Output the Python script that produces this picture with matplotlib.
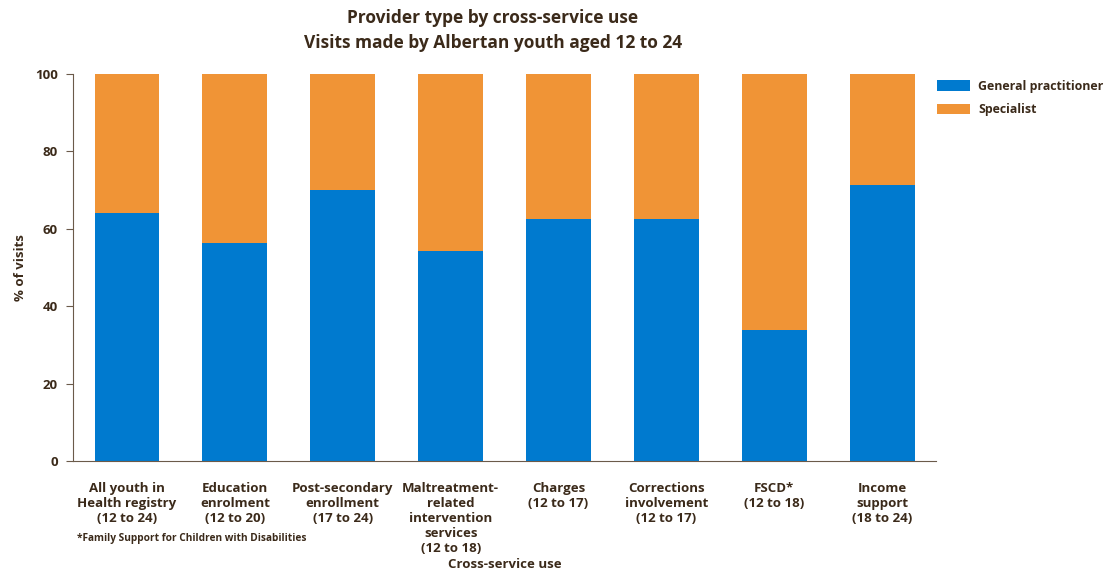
import matplotlib.pyplot as plt
import numpy as np

categories = [
    "All youth in\nHealth registry\n(12 to 24)",
    "Education\nenrolment\n(12 to 20)",
    "Post-secondary\nenrollment\n(17 to 24)",
    "Maltreatment-\nrelated\nintervention\nservices\n(12 to 18)",
    "Charges\n(12 to 17)",
    "Corrections\ninvolvement\n(12 to 17)",
    "FSCD*\n(12 to 18)",
    "Income\nsupport\n(18 to 24)",
]
general_practitioner = [64.1, 56.3, 70.0, 54.3, 62.5, 62.5, 33.9, 71.3]
specialist = [100 - v for v in general_practitioner]

TEXT = "#3b2a1a"
BLUE = "#007ACF"
ORANGE = "#F09436"

plt.rcParams['font.family'] = ['Open Sans', 'DejaVu Sans']
plt.rcParams['font.weight'] = 'bold'

fig = plt.figure(figsize=(11.13, 5.74), dpi=100)
ax = fig.add_axes([0.0656, 0.197, 0.7755, 0.674])

x = np.arange(len(categories))
ax.bar(x, general_practitioner, width=0.6, color=BLUE, label="General practitioner")
ax.bar(x, specialist, width=0.6, bottom=general_practitioner, color=ORANGE, label="Specialist")

ax.set_xlim(-0.5, len(categories) - 0.5)
ax.set_ylim(0, 100)
ax.set_yticks([0, 20, 40, 60, 80, 100])
ax.set_xticks(x)
ax.set_xticklabels(categories, fontsize=9.5, color=TEXT, fontweight='bold', linespacing=1.2)
ax.tick_params(axis='x', length=0, pad=15)
ax.tick_params(axis='y', colors="#6b5a4a", labelcolor=TEXT, labelsize=9.5, length=5, pad=6)
for lbl in ax.get_yticklabels():
    lbl.set_fontweight('bold')

for s in ['top', 'right']:
    ax.spines[s].set_visible(False)
for s in ['left', 'bottom']:
    ax.spines[s].set_color("#6b5a4a")

ax.set_ylabel("% of visits", fontsize=9.5, color=TEXT, fontweight='bold', labelpad=6)
fig.text(0.454, 0.006, "Cross-service use", ha='center', va='bottom', fontsize=9.5,
         color=TEXT, fontweight='bold')
fig.text(0.069, 0.062, "*Family Support for Children with Disabilities", ha='left', va='center',
         fontsize=7.3, color=TEXT, fontweight='bold')

fig.text(0.443, 0.985, "Provider type by cross-service use\nVisits made by Albertan youth aged 12 to 24",
         ha='center', va='top', fontsize=12.5, color=TEXT, fontweight='bold', linespacing=1.5)

leg = ax.legend(loc='upper left', bbox_to_anchor=(1.001, 0.985), frameon=False, fontsize=8.9,
                borderpad=0, borderaxespad=0, handlelength=2.7, handleheight=0.95,
                handletextpad=0.65, labelspacing=0.85)
for t in leg.get_texts():
    t.set_color(TEXT)
    t.set_fontweight('bold')

fig.savefig("out.png", dpi=100)
